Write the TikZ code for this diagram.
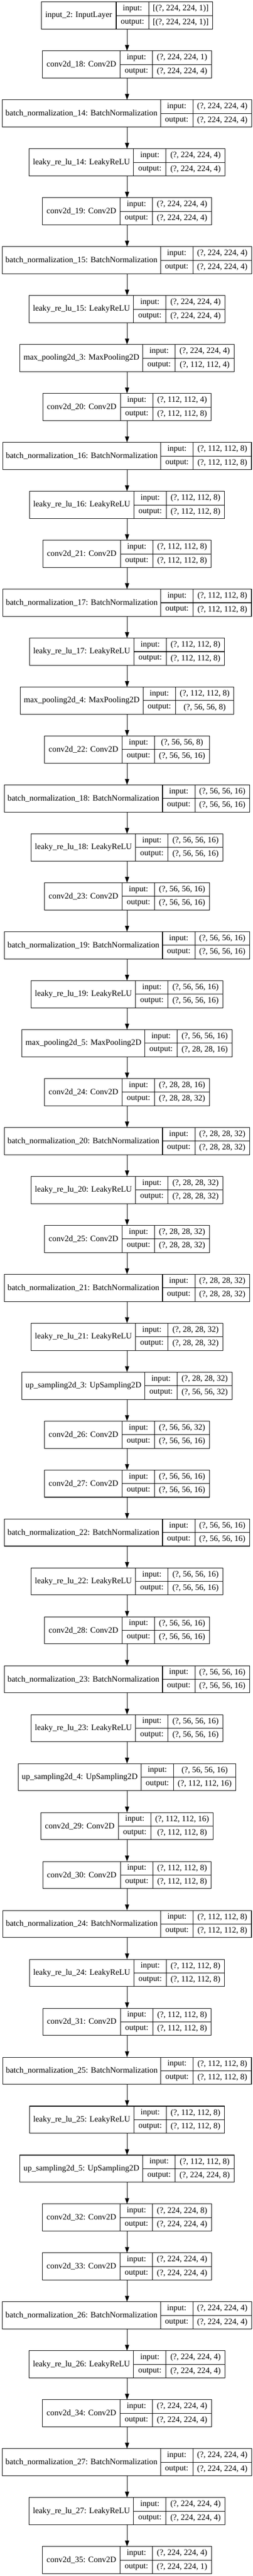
\documentclass[tikz,border=0pt]{standalone}
\usepackage{fontspec}
\setmainfont{Liberation Serif}
\usepackage{tikz}
\usetikzlibrary{arrows.meta}
\usetikzlibrary{positioning}
\newcommand\recfont{\fontsize{14pt}{16pt}\selectfont}
\tikzset{
    record/.style={draw=black, line width=0.9pt, inner sep=0pt, outer sep=0pt, minimum height=46.1pt},
    field/.style={draw=black, line width=0.9pt, inner sep=0pt, outer sep=0pt, font=\recfont},
    namefield/.style={field, anchor=west, minimum height=46.1pt},
    portfield/.style={field, anchor=north west, minimum height=23.05pt},
}
\tikzstyle{line} = [draw, line width=0.9pt, -{Triangle[length=10pt,width=7pt]}]
\newlength\namew
\newlength\portw
\newlength\shapew
\newlength\otherw
\newlength\recw
% #1 node, #2 row, #3 layer name, #4 input shape, #5 output shape
\newcommand\layer[5]{%
    \pgfinterruptpicture
        \setbox0\hbox{\recfont #3}\global\namew=\wd0
        \setbox0\hbox{\recfont output:}\global\portw=\wd0
        \setbox0\hbox{\recfont #4}\global\shapew=\wd0
        \setbox0\hbox{\recfont #5}\global\otherw=\wd0
    \endpgfinterruptpicture
    \ifdim\otherw>\shapew \shapew=\otherw \fi
    \namew=\dimexpr 0.978\namew+16.35pt\relax
    \portw=\dimexpr 0.978\portw+16.35pt\relax
    \shapew=\dimexpr 0.978\shapew+16.35pt\relax
    \recw=\dimexpr\namew+\portw+\shapew\relax
    \pgfmathsetmacro\recy{-(26.45+83.03*#2)}%
    \node[record, minimum width=\recw] (#1) at (216pt,\recy pt) {};
    \node[namefield, minimum width=\namew] (#1n) at (#1.west) {#3};
    \node[portfield, minimum width=\portw] (#1i) at (#1n.north east) {input:};
    \node[portfield, minimum width=\portw] (#1o) at (#1i.south west) {output:};
    \node[portfield, minimum width=\shapew] (#1is) at (#1i.north east) {#4};
    \node[portfield, minimum width=\shapew] (#1os) at (#1o.north east) {#5};
}
\begin{document}
\begin{tikzpicture}
    \useasboundingbox (0,0) rectangle (429.75pt,-4371pt);
    \layer{in2}{0}{input\_2: InputLayer}{[(?, 224, 224, 1)]}{[(?, 224, 224, 1)]}
    \layer{c18}{1}{conv2d\_18: Conv2D}{(?, 224, 224, 1)}{(?, 224, 224, 4)}
    \layer{bn14}{2}{batch\_normalization\_14: BatchNormalization}{(?, 224, 224, 4)}{(?, 224, 224, 4)}
    \layer{lr14}{3}{leaky\_re\_lu\_14: LeakyReLU}{(?, 224, 224, 4)}{(?, 224, 224, 4)}
    \layer{c19}{4}{conv2d\_19: Conv2D}{(?, 224, 224, 4)}{(?, 224, 224, 4)}
    \layer{bn15}{5}{batch\_normalization\_15: BatchNormalization}{(?, 224, 224, 4)}{(?, 224, 224, 4)}
    \layer{lr15}{6}{leaky\_re\_lu\_15: LeakyReLU}{(?, 224, 224, 4)}{(?, 224, 224, 4)}
    \layer{mp3}{7}{max\_pooling2d\_3: MaxPooling2D}{(?, 224, 224, 4)}{(?, 112, 112, 4)}
    \layer{c20}{8}{conv2d\_20: Conv2D}{(?, 112, 112, 4)}{(?, 112, 112, 8)}
    \layer{bn16}{9}{batch\_normalization\_16: BatchNormalization}{(?, 112, 112, 8)}{(?, 112, 112, 8)}
    \layer{lr16}{10}{leaky\_re\_lu\_16: LeakyReLU}{(?, 112, 112, 8)}{(?, 112, 112, 8)}
    \layer{c21}{11}{conv2d\_21: Conv2D}{(?, 112, 112, 8)}{(?, 112, 112, 8)}
    \layer{bn17}{12}{batch\_normalization\_17: BatchNormalization}{(?, 112, 112, 8)}{(?, 112, 112, 8)}
    \layer{lr17}{13}{leaky\_re\_lu\_17: LeakyReLU}{(?, 112, 112, 8)}{(?, 112, 112, 8)}
    \layer{mp4}{14}{max\_pooling2d\_4: MaxPooling2D}{(?, 112, 112, 8)}{(?, 56, 56, 8)}
    \layer{c22}{15}{conv2d\_22: Conv2D}{(?, 56, 56, 8)}{(?, 56, 56, 16)}
    \layer{bn18}{16}{batch\_normalization\_18: BatchNormalization}{(?, 56, 56, 16)}{(?, 56, 56, 16)}
    \layer{lr18}{17}{leaky\_re\_lu\_18: LeakyReLU}{(?, 56, 56, 16)}{(?, 56, 56, 16)}
    \layer{c23}{18}{conv2d\_23: Conv2D}{(?, 56, 56, 16)}{(?, 56, 56, 16)}
    \layer{bn19}{19}{batch\_normalization\_19: BatchNormalization}{(?, 56, 56, 16)}{(?, 56, 56, 16)}
    \layer{lr19}{20}{leaky\_re\_lu\_19: LeakyReLU}{(?, 56, 56, 16)}{(?, 56, 56, 16)}
    \layer{mp5}{21}{max\_pooling2d\_5: MaxPooling2D}{(?, 56, 56, 16)}{(?, 28, 28, 16)}
    \layer{c24}{22}{conv2d\_24: Conv2D}{(?, 28, 28, 16)}{(?, 28, 28, 32)}
    \layer{bn20}{23}{batch\_normalization\_20: BatchNormalization}{(?, 28, 28, 32)}{(?, 28, 28, 32)}
    \layer{lr20}{24}{leaky\_re\_lu\_20: LeakyReLU}{(?, 28, 28, 32)}{(?, 28, 28, 32)}
    \layer{c25}{25}{conv2d\_25: Conv2D}{(?, 28, 28, 32)}{(?, 28, 28, 32)}
    \layer{bn21}{26}{batch\_normalization\_21: BatchNormalization}{(?, 28, 28, 32)}{(?, 28, 28, 32)}
    \layer{lr21}{27}{leaky\_re\_lu\_21: LeakyReLU}{(?, 28, 28, 32)}{(?, 28, 28, 32)}
    \layer{up3}{28}{up\_sampling2d\_3: UpSampling2D}{(?, 28, 28, 32)}{(?, 56, 56, 32)}
    \layer{c26}{29}{conv2d\_26: Conv2D}{(?, 56, 56, 32)}{(?, 56, 56, 16)}
    \layer{c27}{30}{conv2d\_27: Conv2D}{(?, 56, 56, 16)}{(?, 56, 56, 16)}
    \layer{bn22}{31}{batch\_normalization\_22: BatchNormalization}{(?, 56, 56, 16)}{(?, 56, 56, 16)}
    \layer{lr22}{32}{leaky\_re\_lu\_22: LeakyReLU}{(?, 56, 56, 16)}{(?, 56, 56, 16)}
    \layer{c28}{33}{conv2d\_28: Conv2D}{(?, 56, 56, 16)}{(?, 56, 56, 16)}
    \layer{bn23}{34}{batch\_normalization\_23: BatchNormalization}{(?, 56, 56, 16)}{(?, 56, 56, 16)}
    \layer{lr23}{35}{leaky\_re\_lu\_23: LeakyReLU}{(?, 56, 56, 16)}{(?, 56, 56, 16)}
    \layer{up4}{36}{up\_sampling2d\_4: UpSampling2D}{(?, 56, 56, 16)}{(?, 112, 112, 16)}
    \layer{c29}{37}{conv2d\_29: Conv2D}{(?, 112, 112, 16)}{(?, 112, 112, 8)}
    \layer{c30}{38}{conv2d\_30: Conv2D}{(?, 112, 112, 8)}{(?, 112, 112, 8)}
    \layer{bn24}{39}{batch\_normalization\_24: BatchNormalization}{(?, 112, 112, 8)}{(?, 112, 112, 8)}
    \layer{lr24}{40}{leaky\_re\_lu\_24: LeakyReLU}{(?, 112, 112, 8)}{(?, 112, 112, 8)}
    \layer{c31}{41}{conv2d\_31: Conv2D}{(?, 112, 112, 8)}{(?, 112, 112, 8)}
    \layer{bn25}{42}{batch\_normalization\_25: BatchNormalization}{(?, 112, 112, 8)}{(?, 112, 112, 8)}
    \layer{lr25}{43}{leaky\_re\_lu\_25: LeakyReLU}{(?, 112, 112, 8)}{(?, 112, 112, 8)}
    \layer{up5}{44}{up\_sampling2d\_5: UpSampling2D}{(?, 112, 112, 8)}{(?, 224, 224, 8)}
    \layer{c32}{45}{conv2d\_32: Conv2D}{(?, 224, 224, 8)}{(?, 224, 224, 4)}
    \layer{c33}{46}{conv2d\_33: Conv2D}{(?, 224, 224, 4)}{(?, 224, 224, 4)}
    \layer{bn26}{47}{batch\_normalization\_26: BatchNormalization}{(?, 224, 224, 4)}{(?, 224, 224, 4)}
    \layer{lr26}{48}{leaky\_re\_lu\_26: LeakyReLU}{(?, 224, 224, 4)}{(?, 224, 224, 4)}
    \layer{c34}{49}{conv2d\_34: Conv2D}{(?, 224, 224, 4)}{(?, 224, 224, 4)}
    \layer{bn27}{50}{batch\_normalization\_27: BatchNormalization}{(?, 224, 224, 4)}{(?, 224, 224, 4)}
    \layer{lr27}{51}{leaky\_re\_lu\_27: LeakyReLU}{(?, 224, 224, 4)}{(?, 224, 224, 4)}
    \layer{c35}{52}{conv2d\_35: Conv2D}{(?, 224, 224, 4)}{(?, 224, 224, 1)}
    % connections
    \draw[line] (in2) -- (c18);
    \draw[line] (c18) -- (bn14);
    \draw[line] (bn14) -- (lr14);
    \draw[line] (lr14) -- (c19);
    \draw[line] (c19) -- (bn15);
    \draw[line] (bn15) -- (lr15);
    \draw[line] (lr15) -- (mp3);
    \draw[line] (mp3) -- (c20);
    \draw[line] (c20) -- (bn16);
    \draw[line] (bn16) -- (lr16);
    \draw[line] (lr16) -- (c21);
    \draw[line] (c21) -- (bn17);
    \draw[line] (bn17) -- (lr17);
    \draw[line] (lr17) -- (mp4);
    \draw[line] (mp4) -- (c22);
    \draw[line] (c22) -- (bn18);
    \draw[line] (bn18) -- (lr18);
    \draw[line] (lr18) -- (c23);
    \draw[line] (c23) -- (bn19);
    \draw[line] (bn19) -- (lr19);
    \draw[line] (lr19) -- (mp5);
    \draw[line] (mp5) -- (c24);
    \draw[line] (c24) -- (bn20);
    \draw[line] (bn20) -- (lr20);
    \draw[line] (lr20) -- (c25);
    \draw[line] (c25) -- (bn21);
    \draw[line] (bn21) -- (lr21);
    \draw[line] (lr21) -- (up3);
    \draw[line] (up3) -- (c26);
    \draw[line] (c26) -- (c27);
    \draw[line] (c27) -- (bn22);
    \draw[line] (bn22) -- (lr22);
    \draw[line] (lr22) -- (c28);
    \draw[line] (c28) -- (bn23);
    \draw[line] (bn23) -- (lr23);
    \draw[line] (lr23) -- (up4);
    \draw[line] (up4) -- (c29);
    \draw[line] (c29) -- (c30);
    \draw[line] (c30) -- (bn24);
    \draw[line] (bn24) -- (lr24);
    \draw[line] (lr24) -- (c31);
    \draw[line] (c31) -- (bn25);
    \draw[line] (bn25) -- (lr25);
    \draw[line] (lr25) -- (up5);
    \draw[line] (up5) -- (c32);
    \draw[line] (c32) -- (c33);
    \draw[line] (c33) -- (bn26);
    \draw[line] (bn26) -- (lr26);
    \draw[line] (lr26) -- (c34);
    \draw[line] (c34) -- (bn27);
    \draw[line] (bn27) -- (lr27);
    \draw[line] (lr27) -- (c35);
\end{tikzpicture}
\end{document}
